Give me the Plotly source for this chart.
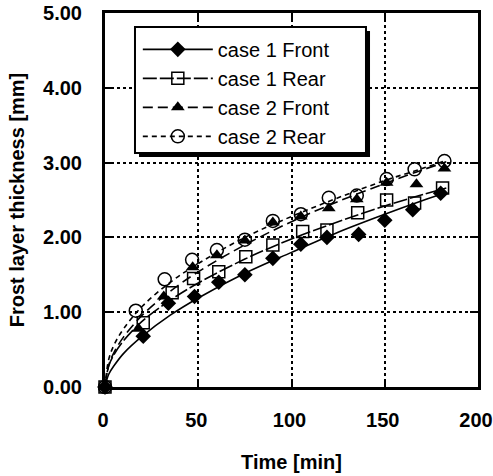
import plotly.graph_objects as go

# ---- measured data ----
c1f_t = [0, 20.5, 34, 48, 61, 75, 90, 105, 119, 136, 150, 165, 180]
c1f_y = [0, 0.68, 1.12, 1.21, 1.40, 1.50, 1.72, 1.91, 2.00, 2.04, 2.23, 2.37, 2.59]

c1r_t = [0, 20.5, 36, 47.5, 61, 75.5, 90, 106, 119, 135.5, 151, 166, 181]
c1r_y = [0, 0.86, 1.26, 1.45, 1.54, 1.74, 1.90, 2.08, 2.10, 2.33, 2.50, 2.46, 2.66]

c2f_t = [0, 18, 31.5, 47, 60, 75, 90, 105, 120, 135, 151, 167, 182]
c2f_y = [0, 0.78, 1.21, 1.60, 1.76, 1.96, 2.20, 2.28, 2.39, 2.51, 2.73, 2.71, 2.92]

c2r_t = [0, 16.5, 32, 46.7, 60, 75, 90, 105, 120, 135, 151, 166, 182]
c2r_y = [0, 1.02, 1.44, 1.70, 1.83, 1.97, 2.22, 2.31, 2.53, 2.56, 2.78, 2.91, 3.02]

# trend curves
fit_t = [0, 2, 5, 10, 20, 35, 50, 75, 100, 125, 150, 170, 183]
c1f_fit = [0, 0.17, 0.29, 0.45, 0.68, 0.96, 1.19, 1.52, 1.80, 2.07, 2.31, 2.49, 2.60]
c1r_fit = [0, 0.28, 0.44, 0.62, 0.88, 1.16, 1.39, 1.71, 1.98, 2.21, 2.42, 2.57, 2.66]
c2f_fit = [0, 0.29, 0.47, 0.67, 0.96, 1.28, 1.54, 1.90, 2.21, 2.48, 2.72, 2.90, 3.01]
c2r_fit = [0, 0.37, 0.57, 0.78, 1.08, 1.40, 1.65, 2.00, 2.28, 2.53, 2.76, 2.92, 3.03]

names = ["case 1 Front", "case 1 Rear", "case 2 Front", "case 2 Rear"]
x_ticks = [0, 50, 100, 150, 200]
y_ticks = [0, 1, 2, 3, 4, 5]
y_labels = ["0.00", "1.00", "2.00", "3.00", "4.00", "5.00"]

series = [
    (c1f_t, c1f_y, c1f_fit, dict(symbol="diamond", size=12, color="black"), "solid"),
    (c1r_t, c1r_y, c1r_fit, dict(symbol="square-open", size=12, color="black", line=dict(width=1.5)), "14px,3px"),
    (c2f_t, c2f_y, c2f_fit, dict(symbol="triangle-up", size=12, color="black"), "10px,5px"),
    (c2r_t, c2r_y, c2r_fit, dict(symbol="circle-open", size=13, color="black", line=dict(width=1.5)), "5px,4px"),
]

fig = go.Figure()
for (t, y, fit, mk, dash), name in zip(series, names):
    fig.add_trace(go.Scatter(x=fit_t, y=fit, mode="lines", line=dict(color="black", width=1.6, dash=dash, shape="spline"),
                             showlegend=False, hoverinfo="skip"))
    fig.add_trace(go.Scatter(x=t, y=y, mode="markers", marker=mk, showlegend=False, cliponaxis=False))
    fig.add_trace(go.Scatter(x=[None], y=[None], mode="lines+markers", name=name,
                             line=dict(color="black", width=1.6, dash=dash), marker=mk))

font_fam = "Liberation Sans, Arial, sans-serif"

fig.update_layout(
    width=493, height=476,
    margin=dict(l=105, r=15, t=13, b=89),
    paper_bgcolor="white", plot_bgcolor="white",
    font=dict(family=font_fam, color="black"),
    legend=dict(x=0.088, y=0.955, xanchor="left", yanchor="top",
                bgcolor="rgba(0,0,0,0)", borderwidth=0,
                font=dict(size=20, family=font_fam, color="black"),
                itemwidth=70, tracegroupgap=0),
    xaxis=dict(range=[0, 200], tickvals=x_ticks, ticks="inside", ticklen=8, tickwidth=2, tickcolor="black",
               showline=True, linewidth=3, linecolor="black", mirror="allticks",
               showgrid=True, gridcolor="black", griddash="dot", gridwidth=1.5,
               zeroline=False, tickfont=dict(size=20, family=font_fam, weight="bold"),
               ticklabelstandoff=13, ticklabelshift=-2, ticklabeloverflow="allow", automargin=False,
               title=dict(text="<b>Time [min]</b>", font=dict(size=20), standoff=25)),
    yaxis=dict(range=[0, 5], tickvals=y_ticks, ticktext=y_labels, ticks="inside", ticklen=8, tickwidth=2, tickcolor="black",
               showline=True, linewidth=3, linecolor="black", mirror="allticks",
               showgrid=True, gridcolor="black", griddash="dot", gridwidth=1.5,
               zeroline=False, tickfont=dict(size=20, family=font_fam, weight="bold"),
               ticklabelstandoff=16, ticklabeloverflow="allow", automargin=False,
               title=dict(text="<b>Frost layer thickness [mm]</b>", font=dict(size=20), standoff=14)),
)

# legend box with drop shadow
fig.add_shape(type="rect", xref="paper", yref="paper", x0=0.0912, x1=0.7105, y0=0.615, y1=0.952,
              fillcolor="black", line=dict(width=0), layer="above")
fig.add_shape(type="rect", xref="paper", yref="paper", x0=0.0804, x1=0.6997, y0=0.6257, y1=0.9626,
              fillcolor="white", line=dict(color="black", width=2), layer="above")

fig.write_html("out.html")
